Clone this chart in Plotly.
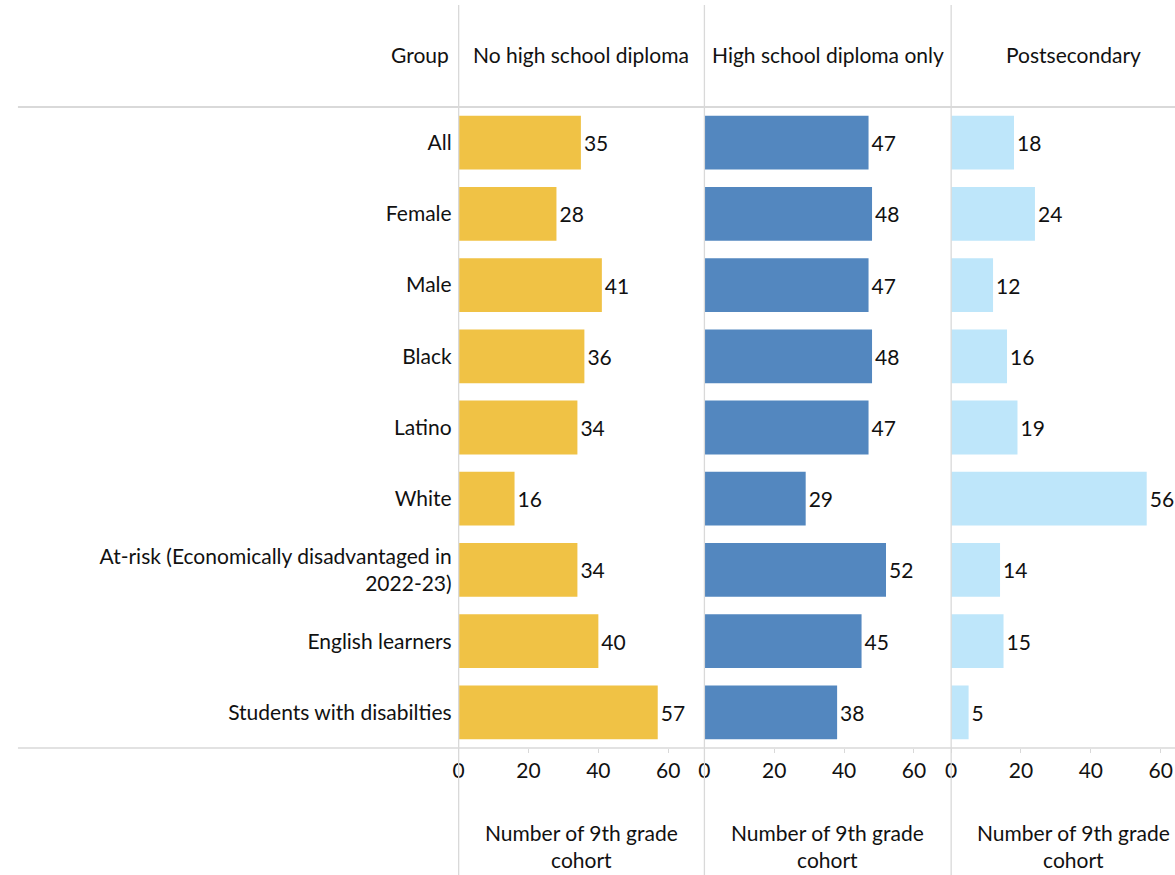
import plotly.graph_objects as go

# Outcome shares by student group (number of 9th grade cohort)
groups = [
    "All",
    "Female",
    "Male",
    "Black",
    "Latino",
    "White",
    "At-risk (Economically disadvantaged in<br>2022-23)",
    "English learners",
    "Students with disabilties",
]
no_diploma = [35, 28, 41, 36, 34, 16, 34, 40, 57]
diploma_only = [47, 48, 47, 48, 47, 29, 52, 45, 38]
postsecondary = [18, 24, 12, 16, 19, 56, 14, 15, 5]

panel_titles = ["No high school diploma", "High school diploma only", "Postsecondary"]
axis_title = "Number of 9th grade<br>cohort"
tick_values = [0, 20, 40, 60]

colors = ["#F0C245", "#5387BF", "#BEE6FA"]
series = [no_diploma, diploma_only, postsecondary]

W, H = 1175, 875
FONT = "Lato"
FS = 21
INK = "#111111"
GRID = "#D9D9D9"

def px_x(p):
    return p / W

def px_y(p):
    return 1 - p / H

# panel pixel extents (left, right) and the axis range that fits them
scale = 3.51  # pixels per unit
panels = [(455, 702), (702, 950), (950, 1175)]

fig = go.Figure()
for i, (vals, col) in enumerate(zip(series, colors)):
    ax = "" if i == 0 else str(i + 1)
    fig.add_trace(go.Bar(
        x=vals, y=groups, orientation="h",
        marker=dict(color=col, line=dict(width=0)),
        text=[str(v) for v in vals], textposition="outside",
        textfont=dict(family=FONT, size=FS, color=INK),
        constraintext="none", cliponaxis=False,
        xaxis="x" + ax, yaxis="y",
        hoverinfo="skip", showlegend=False,
    ))

y_bottom, y_top = 748, 107
layout = dict(
    width=W, height=H,
    margin=dict(l=0, r=0, t=0, b=0),
    paper_bgcolor="white", plot_bgcolor="white",
    font=dict(family=FONT, size=FS, color=INK),
    bargap=0.245,
    yaxis=dict(
        domain=[px_y(y_bottom), px_y(y_top)],
        autorange="reversed", type="category",
        showgrid=False, zeroline=False, showline=False,
        ticks="", ticklabelstandoff=6,
        tickfont=dict(family=FONT, size=FS, color=INK),
        anchor="x",
    ),
)
for i, (l, r) in enumerate(panels):
    key = "xaxis" if i == 0 else f"xaxis{i + 1}"
    layout[key] = dict(
        domain=[px_x(l), px_x(r)],
        range=[0, (r - l) / scale],
        tickvals=tick_values,
        showgrid=False, zeroline=False, showline=False,
        ticks="outside", ticklen=4, tickcolor=GRID,
        ticklabelstandoff=0,
        tickfont=dict(family=FONT, size=FS, color=INK),
        anchor="y", fixedrange=True,
    )
fig.update_layout(**layout)

# frame: vertical dividers and horizontal rules
shapes = []
for xp in (455, 702, 950):
    shapes.append(dict(type="line", xref="paper", yref="paper",
                       x0=px_x(xp), x1=px_x(xp), y0=0, y1=px_y(5),
                       line=dict(color=GRID, width=1.3)))
shapes.append(dict(type="line", xref="paper", yref="paper",
                   x0=px_x(12), x1=1, y0=px_y(107), y1=px_y(107),
                   line=dict(color=GRID, width=2)))
shapes.append(dict(type="line", xref="paper", yref="paper",
                   x0=px_x(12), x1=1, y0=px_y(748), y1=px_y(748),
                   line=dict(color=GRID, width=1.5)))
fig.update_layout(shapes=shapes)

# header row and axis titles
centers = [578, 826, 1073]
annotations = [dict(text="Group", x=px_x(447), y=px_y(55), xref="paper", yref="paper",
                    xanchor="right", yanchor="middle", showarrow=False,
                    font=dict(family=FONT, size=FS, color=INK))]
for c, t in zip(centers, panel_titles):
    annotations.append(dict(text=t, x=px_x(c), y=px_y(55), xref="paper", yref="paper",
                            xanchor="center", yanchor="middle", showarrow=False,
                            font=dict(family=FONT, size=FS, color=INK)))
    annotations.append(dict(text=axis_title, x=px_x(c), y=px_y(846), xref="paper", yref="paper",
                            xanchor="center", yanchor="middle", showarrow=False,
                            font=dict(family=FONT, size=FS, color=INK)))
fig.update_layout(annotations=annotations)

fig.write_html("out.html")
